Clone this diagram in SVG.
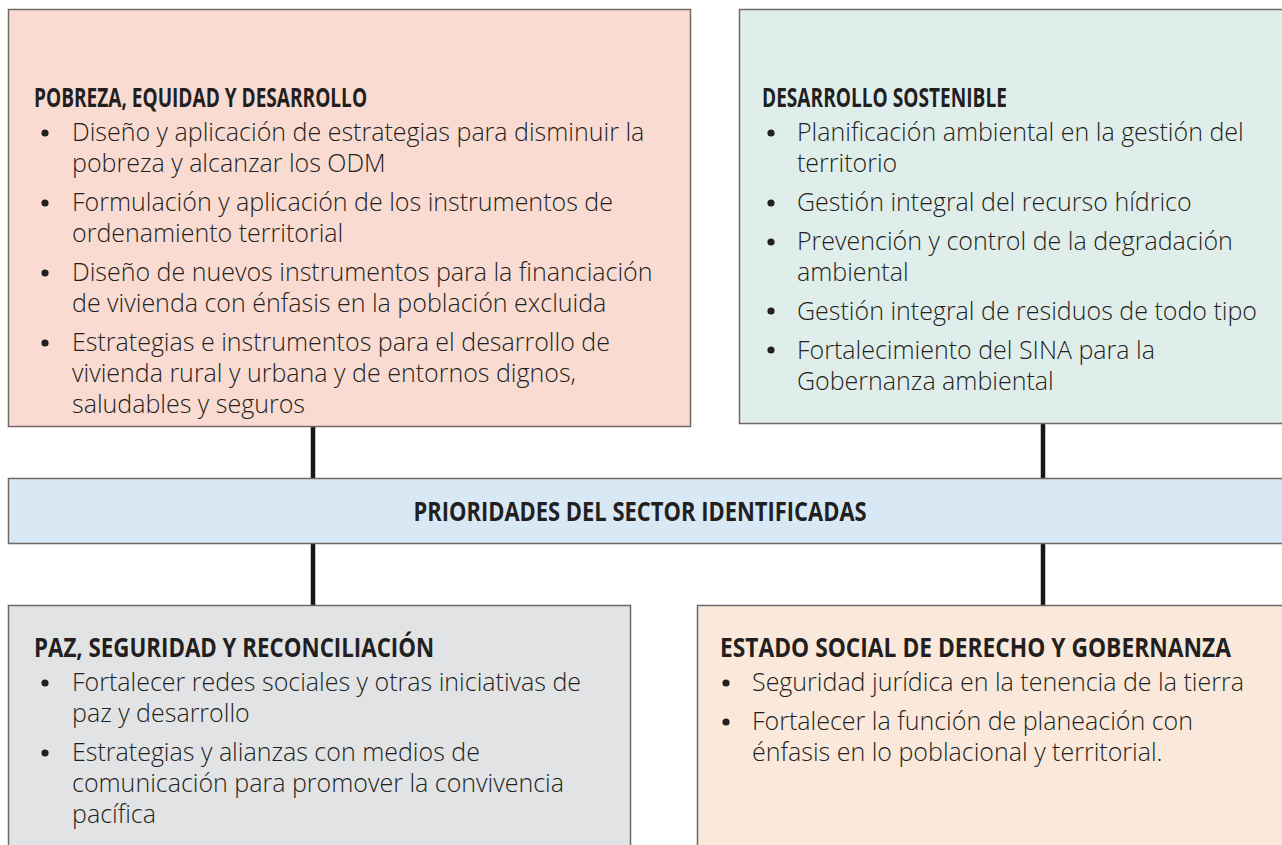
<svg xmlns="http://www.w3.org/2000/svg" width="1282" height="845" viewBox="0 0 1282 845">
<style>
.box{stroke:#6f6a66;stroke-width:1.5}
.t{font-family:"Open Sans","Liberation Sans",sans-serif;font-weight:700;font-size:27px;fill:#231f20}
.b{font-family:"Open Sans","Liberation Sans",sans-serif;font-weight:300;font-size:25px;fill:#231f20}
.d{fill:#231f20}
.conn{stroke:#1a1712;stroke-width:4.5;fill:none}
</style>
<defs><circle id="dot" r="3.6" class="d"/></defs>
<rect width="1282" height="845" fill="#fff"/>
<g id="connectors">
<line class="conn" x1="313" y1="427" x2="313" y2="478"/>
<line class="conn" x1="1043" y1="424" x2="1043" y2="478"/>
<line class="conn" x1="313" y1="544" x2="313" y2="605"/>
<line class="conn" x1="1043" y1="544" x2="1043" y2="605"/>
</g>
<g id="pobreza">
<rect class="box" x="8.5" y="9.5" width="682" height="417" fill="#fadbd2"/>
<text class="t" transform="translate(34,107) scale(0.78,1)" textLength="427" lengthAdjust="spacingAndGlyphs">POBREZA, EQUIDAD Y DESARROLLO</text>
<use href="#dot" x="45" y="133"/><use href="#dot" x="45" y="203"/><use href="#dot" x="45" y="273"/><use href="#dot" x="45" y="343"/>
<g class="b">
<text x="72" y="141">Diseño y aplicación de estrategias para disminuir la</text>
<text x="72" y="172">pobreza y alcanzar los ODM</text>
<text x="72" y="211">Formulación y aplicación de los instrumentos de</text>
<text x="72" y="242">ordenamiento territorial</text>
<text x="72" y="281">Diseño de nuevos instrumentos para la financiación</text>
<text x="72" y="312">de vivienda con énfasis en la población excluida</text>
<text x="72" y="351">Estrategias e instrumentos para el desarrollo de</text>
<text x="72" y="382">vivienda rural y urbana y de entornos dignos,</text>
<text x="72" y="413">saludables y seguros</text>
</g>
</g>
<g id="sostenible">
<rect class="box" x="739.5" y="9.5" width="560" height="414" fill="#e0eeeb"/>
<text class="t" transform="translate(762,107) scale(0.78,1)" textLength="314" lengthAdjust="spacingAndGlyphs">DESARROLLO SOSTENIBLE</text>
<use href="#dot" x="771" y="133"/><use href="#dot" x="771" y="203"/><use href="#dot" x="771" y="242"/><use href="#dot" x="771" y="311"/><use href="#dot" x="771" y="350"/>
<g class="b">
<text x="797" y="141">Planificación ambiental en la gestión del</text>
<text x="797" y="172">territorio</text>
<text x="797" y="211">Gestión integral del recurso hídrico</text>
<text x="797" y="250">Prevención y control de la degradación</text>
<text x="797" y="281">ambiental</text>
<text x="797" y="320">Gestión integral de residuos de todo tipo</text>
<text x="797" y="359">Fortalecimiento del SINA para la</text>
<text x="797" y="390">Gobernanza ambiental</text>
</g>
</g>
<g id="prioridades">
<rect class="box" x="8.5" y="478.5" width="1290" height="65" fill="#d8e8f5"/>
<text class="t" transform="translate(640,521) scale(0.78,1)" text-anchor="middle" textLength="581" lengthAdjust="spacingAndGlyphs">PRIORIDADES DEL SECTOR IDENTIFICADAS</text>
</g>
<g id="paz">
<rect class="box" x="8.5" y="605.5" width="622" height="260" fill="#e2e3e5"/>
<text class="t" transform="translate(34,657) scale(0.78,1)" textLength="513" lengthAdjust="spacingAndGlyphs">PAZ, SEGURIDAD Y RECONCILIACIÓN</text>
<use href="#dot" x="45" y="683"/><use href="#dot" x="45" y="753"/>
<g class="b">
<text x="72" y="691">Fortalecer redes sociales y otras iniciativas de</text>
<text x="72" y="722">paz y desarrollo</text>
<text x="72" y="761">Estrategias y alianzas con medios de</text>
<text x="72" y="792">comunicación para promover la convivencia</text>
<text x="72" y="823">pacífica</text>
</g>
</g>
<g id="estado">
<rect class="box" x="697.5" y="605.5" width="600" height="260" fill="#fae9da"/>
<text class="t" transform="translate(720,657) scale(0.78,1)" textLength="655" lengthAdjust="spacingAndGlyphs">ESTADO SOCIAL DE DERECHO Y GOBERNANZA</text>
<use href="#dot" x="726" y="683"/><use href="#dot" x="726" y="722"/>
<g class="b">
<text x="752" y="691">Seguridad jurídica en la tenencia de la tierra</text>
<text x="752" y="730">Fortalecer la función de planeación con</text>
<text x="752" y="761">énfasis en lo poblacional y territorial.</text>
</g>
</g>
</svg>
